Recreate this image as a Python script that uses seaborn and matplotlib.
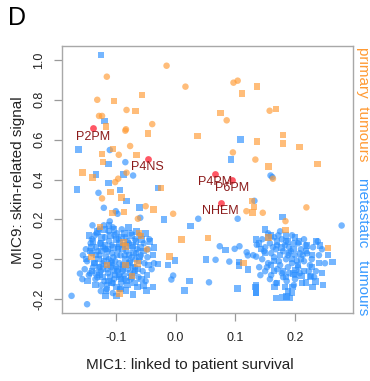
import matplotlib
matplotlib.use("Agg")
import matplotlib.pyplot as plt
import seaborn as sns
import pandas as pd

# ---------------- data ----------------
blue_circle_x = [-0.150, -0.142, -0.135, -0.128, -0.120, -0.112, -0.105, -0.098, -0.090, -0.083, -0.075, -0.068, -0.060, -0.053, -0.046,
                 -0.155, -0.148, -0.140, -0.133, -0.127, -0.122, -0.117, -0.111, -0.106, -0.101, -0.096, -0.092, -0.087, -0.082, -0.078,
                 -0.073, -0.068, -0.064, -0.058, -0.052, -0.047, -0.040,
                 -0.152, -0.145, -0.138, -0.131, -0.125, -0.119, -0.113, -0.108, -0.103, -0.097, -0.091, -0.086, -0.080, -0.075, -0.070,
                 -0.062, -0.055, -0.160, -0.174, -0.148,
                 -0.140, -0.132, -0.126, -0.118, -0.114, -0.107, -0.102, -0.095, -0.088, -0.080, -0.072, -0.066, -0.130, -0.121,
                 -0.112, -0.104, -0.094, -0.085, -0.076, -0.067, -0.136, -0.127, -0.117, -0.108, -0.099, -0.089, -0.079, -0.143,
                 -0.134, -0.124, -0.114, -0.105, -0.095, -0.085, -0.125, -0.115, -0.105, -0.093, -0.156, -0.044, -0.036, -0.050,
                 -0.139, -0.110,
                 -0.129, -0.110, -0.084, -0.071, -0.120, -0.100, -0.097, -0.059, 0.038, 0.104, 0.132, 0.159, 0.162, 0.278,
                 0.056, -0.004, -0.007, 0.067, 0.090, 0.074, 0.099, 0.107, 0.119, 0.121, 0.136, 0.135,
                 0.145, 0.155, 0.165, 0.175, 0.185, 0.195, 0.205, 0.215, 0.150, 0.160, 0.170, 0.180, 0.190, 0.200, 0.210, 0.220,
                 0.230, 0.240, 0.145, 0.155, 0.165, 0.175, 0.185, 0.195, 0.205, 0.215, 0.225, 0.235, 0.150, 0.160, 0.170, 0.180,
                 0.190, 0.200, 0.250, 0.245, 0.130, 0.140,
                 0.148, 0.158, 0.168, 0.178, 0.188, 0.198, 0.208, 0.218, 0.228, 0.238, 0.153, 0.163, 0.173, 0.183, 0.193, 0.203,
                 0.213, 0.223, 0.158, 0.168, 0.178, 0.188, 0.198, 0.208, 0.142, 0.232, 0.172, 0.186]
blue_circle_y = [0.05, 0.08, 0.12, 0.15, 0.17, 0.14, 0.16, 0.13, 0.15, 0.11, 0.13, 0.10, 0.12, 0.08, 0.05,
                 0.02, -0.01, 0.03, 0.06, 0.02, -0.02, 0.05, 0.09, 0.03, -0.01, 0.06, 0.02, -0.03, 0.04, 0.08,
                 0.01, -0.04, 0.05, 0.02, -0.02, 0.01, -0.05,
                 -0.05, -0.08, -0.04, -0.09, -0.06, -0.11, -0.07, -0.04, -0.10, -0.06, -0.12, -0.08, -0.05, -0.10, -0.07,
                 -0.09, -0.06, -0.072, -0.184, -0.226,
                 0.10, 0.13, 0.08, 0.11, 0.04, 0.07, 0.12, 0.10, 0.07, 0.09, 0.06, 0.03, 0.04, 0.06,
                 0.00, 0.01, -0.02, 0.02, -0.01, 0.00, -0.02, -0.04, -0.03, -0.01, -0.04, -0.06, -0.03, -0.07,
                 -0.10, -0.13, -0.05, -0.12, -0.08, -0.10, -0.16, -0.15, -0.17, -0.15, -0.10, 0.10, -0.02, -0.11,
                 0.17, 0.19,
                 0.333, 0.548, 0.487, 0.420, 0.258, 0.241, 0.228, 0.208, 0.203, 0.203, 0.293, 0.420, 0.412, 0.169,
                 -0.116, -0.082, -0.102, -0.003, -0.012, 0.065, 0.052, 0.065, 0.035, 0.019, 0.072, 0.013,
                 0.10, 0.13, 0.11, 0.14, 0.09, 0.12, 0.08, 0.10, 0.06, 0.03, 0.07, 0.04, 0.06, 0.02, 0.05, 0.03,
                 0.06, 0.02, 0.00, -0.02, 0.01, -0.03, 0.00, -0.02, -0.04, -0.01, -0.03, -0.06, -0.06, -0.08, -0.05, -0.09,
                 -0.07, -0.10, -0.02, 0.05, 0.02, -0.04,
                 0.04, 0.08, 0.05, 0.10, 0.02, 0.08, 0.03, 0.07, 0.00, 0.09, -0.04, 0.06, -0.01, 0.07, 0.04, -0.01,
                 0.02, -0.06, -0.10, -0.12, -0.07, -0.04, -0.13, -0.07, -0.08, -0.09, 0.12, -0.11]

blue_square_x = [-0.162, -0.165, -0.133, -0.112, -0.087, -0.112, -0.093, -0.082, -0.060, -0.029, -0.019, 0.025, -0.125, -0.119,
                 0.1085, 0.093,
                 -0.145, -0.138, -0.131, -0.124, -0.118, -0.109, -0.100, -0.094, -0.085, -0.079, -0.071, -0.065, -0.057, -0.050,
                 -0.043, -0.036,
                 -0.150, -0.143, -0.136, -0.129, -0.124, -0.116, -0.109, -0.104, -0.098, -0.089, -0.084, -0.077, -0.070, -0.061,
                 -0.054, -0.045, -0.038,
                 -0.147, -0.140, -0.134, -0.127, -0.121, -0.115, -0.110, -0.104, -0.099, -0.094, -0.088, -0.082, -0.076, -0.069,
                 -0.063, -0.057, -0.048,
                 -0.141, -0.133, -0.125, -0.119, -0.111, -0.103, -0.096, -0.090, -0.081, -0.073, -0.066, -0.059, -0.128, -0.120,
                 -0.113, -0.106, -0.097, -0.087, -0.078, -0.068, -0.060, -0.132, -0.122, -0.112, -0.101, -0.091, -0.080, -0.071,
                 -0.116, -0.107, -0.092, -0.074,
                 -0.117, -0.099, -0.071, -0.083, -0.049, -0.038, -0.064, -0.054, -0.029, -0.0125, -0.001, 0.023, 0.015, 0.051,
                 0.084, 0.1035, 0.106, 0.106, 0.121, 0.135, 0.135,
                 0.179, 0.135, 0.134, 0.166, 0.168, 0.179, 0.186, 0.191, 0.188, 0.195, 0.183, 0.196, 0.218, 0.234, 0.247,
                 0.229, 0.263, 0.228, 0.227, 0.211, 0.197, 0.201,
                 0.150, 0.160, 0.170, 0.185, 0.200, 0.220, 0.235, 0.150, 0.175, 0.190, 0.210, 0.240, 0.160, 0.180, 0.200,
                 0.215, 0.245, 0.255, 0.140,
                 0.143, 0.155, 0.165, 0.177, 0.188, 0.197, 0.207, 0.218, 0.228, 0.165, 0.185, 0.205, 0.225, 0.170, 0.195,
                 0.212, 0.242, 0.135]
blue_square_y = [0.551, 0.350, 0.424, 0.477, 0.424, 0.383, 0.347, 0.293, 0.260, 0.358, 0.199, 0.167, 1.024, 0.693,
                 0.601, 0.500,
                 0.12, 0.09, 0.14, 0.11, 0.07, 0.12, 0.10, 0.08, 0.13, 0.16, 0.07, 0.14, 0.10, 0.13,
                 0.09, 0.06,
                 0.00, 0.04, -0.02, 0.00, 0.04, 0.01, -0.03, 0.06, 0.02, 0.05, 0.00, -0.02, 0.03, -0.01,
                 0.04, -0.03, 0.02,
                 -0.11, -0.06, -0.13, -0.08, -0.05, -0.13, -0.09, -0.06, -0.14, -0.09, -0.05, -0.11, -0.07, -0.12,
                 -0.05, -0.10, -0.08,
                 0.06, 0.02, 0.08, 0.15, 0.17, 0.15, 0.05, 0.11, 0.07, 0.12, 0.09, 0.06, -0.04, -0.01,
                 0.05, -0.02, -0.05, -0.03, 0.02, -0.06, 0.01, -0.07, -0.09, -0.11, -0.08, -0.10, -0.13, -0.04,
                 -0.16, -0.12, -0.15, -0.09,
                 -0.184, -0.184, -0.176, -0.156, -0.156, -0.139, -0.139, -0.132, -0.025, -0.028, -0.007, -0.109, -0.156, -0.002,
                 0.047, -0.146, -0.015, -0.032, -0.052, -0.132, -0.166,
                 0.213, -0.169, -0.139, -0.139, -0.194, -0.193, -0.186, -0.194, -0.162, -0.169, -0.139, -0.139, -0.116, -0.112, -0.129,
                 -0.139, -0.015, -0.039, -0.085, -0.085, -0.072, -0.055,
                 0.15, 0.12, 0.09, 0.12, 0.11, 0.07, 0.09, 0.03, 0.02, 0.03, 0.00, -0.02, -0.03, -0.06, -0.08,
                 -0.06, -0.07, 0.02, 0.08,
                 0.05, 0.11, -0.01, 0.06, 0.09, 0.05, 0.09, 0.04, 0.02, -0.06, -0.09, -0.03, -0.09, -0.12, 0.00,
                 -0.12, 0.07, 0.10]

orange_circle_x = [-0.115, -0.131, -0.082, -0.128, -0.123, -0.039, -0.083, -0.015, 0.0166, 0.097, 0.104, 0.0856, 0.1575,
                   -0.084, 0.1336, 0.096, 0.163, -0.095, -0.076, -0.082, -0.096, -0.101, -0.123, -0.050, -0.004, -0.063,
                   0.1186, 0.146, 0.184, 0.219, -0.048]
orange_circle_y = [0.916, 0.800, 0.749, 0.719, 0.719, 0.678, 0.652, 0.971, 0.866, 0.886, 0.896, 0.697, 0.745,
                   0.645, 0.500, 0.536, 0.404, 0.524, 0.568, 0.434, 0.404, 0.387, 0.305, 0.266, 0.228, 0.203,
                   0.241, 0.233, 0.191, 0.260, 0.049]

orange_square_x = [-0.103, -0.056, -0.067, -0.116, -0.046, 0.111, 0.136, 0.0756, 0.0366, 0.168, 0.180, 0.180, 0.136,
                   0.2077, 0.238, 0.156, -0.024, -0.156, -0.139, -0.123, -0.121, -0.1045, -0.0654, -0.109, -0.0905,
                   -0.037, -0.1055, -0.086, 0.0099, 0.054, 0.128, 0.131, 0.129, 0.255, 0.184, 0.156, -0.126, -0.061,
                   -0.058, -0.087, -0.084, -0.141, -0.115, -0.064, -0.084, -0.094, -0.0097, 0.114, -0.073]
orange_square_y = [0.795, 0.824, 0.745, 0.665, 0.632, 0.831, 0.868, 0.734, 0.618, 0.754, 0.623, 0.580, 0.591,
                   0.564, 0.477, 0.464, 0.358, 0.434, 0.410, 0.528, 0.487, 0.553, 0.524, 0.338, 0.310,
                   0.250, 0.233, 0.236, 0.100, 0.107, 0.293, 0.263, 0.235, 0.055, 0.146, 0.109, 0.162, 0.132,
                   0.116, 0.085, 0.065, 0.010, -0.028, -0.022, -0.028, -0.173, 0.013, -0.020, -0.085]

cell_labels = ["P2PM", "P4NS", "P4PM", "P6PM", "NHEM"]
cell_x = [-0.138, -0.0465, 0.0656, 0.0945, 0.0756]
cell_y = [0.657, 0.504, 0.430, 0.400, 0.283]

x_ticks = [-0.1, 0.0, 0.1, 0.2]
y_ticks = [-0.2, 0.0, 0.2, 0.4, 0.6, 0.8, 1.0]

# ---------------- table ----------------
frames = [
    pd.DataFrame({"x": blue_circle_x, "y": blue_circle_y, "group": "metastatic", "shape": "circle"}),
    pd.DataFrame({"x": blue_square_x, "y": blue_square_y, "group": "metastatic", "shape": "square"}),
    pd.DataFrame({"x": orange_circle_x, "y": orange_circle_y, "group": "primary", "shape": "circle"}),
    pd.DataFrame({"x": orange_square_x, "y": orange_square_y, "group": "primary", "shape": "square"}),
]
df = pd.concat(frames, ignore_index=True)
cells = pd.DataFrame({"x": cell_x, "y": cell_y, "label": cell_labels})

# ---------------- figure ----------------
sns.set_theme(style="white")
plt.rcParams["font.family"] = ["Liberation Sans", "DejaVu Sans"]

W, H = 370, 381
fig = plt.figure(figsize=(W / 100, H / 100), dpi=100)
ax = fig.add_axes([62 / W, 1 - 313 / H, 291 / W, 267 / H])

BLUE = "#2B8FFF"
ORANGE = "#FF9A33"
sns.scatterplot(data=df, x="x", y="y", hue="group", style="shape",
                palette={"metastatic": BLUE, "primary": ORANGE},
                markers={"circle": "o", "square": "s"},
                s=22, linewidth=0, alpha=0.65, legend=False, ax=ax)
sns.scatterplot(data=cells, x="x", y="y", color="#FF3A4A", s=24, linewidth=0,
                alpha=0.85, legend=False, ax=ax)
for lab, xv, yv in zip(cell_labels, cell_x, cell_y):
    ax.annotate(lab, (xv, yv), xytext=(0, -6), textcoords="offset points",
                ha="center", va="center", fontsize=9, color="#8B1A1A")

ax.set_xlim(-0.190, 0.297)
ax.set_ylim(-0.27, 1.07)
ax.set_xticks(x_ticks)
ax.set_xticklabels([f"{v:.1f}" for v in x_ticks])
ax.set_yticks(y_ticks)
ax.set_yticklabels([f"{v:.1f}" for v in y_ticks], rotation=90, va="center")
ax.tick_params(axis="both", which="both", direction="out", length=6, width=0.9,
               color="#9a9a9a", labelsize=9, labelcolor="#222222",
               bottom=True, left=True)
ax.tick_params(axis="x", pad=8)
ax.tick_params(axis="y", pad=6)
for sp in ax.spines.values():
    sp.set_color("#a8a8a8")
    sp.set_linewidth(1.0)

ax.set_xlabel("")
ax.set_ylabel("")
fig.text(190 / W, 1 - 365 / H, "MIC1: linked to patient survival", ha="center", va="center",
         fontsize=11, color="#222222")
fig.text(18 / W, 1 - 180 / H, "MIC9: skin-related signal", ha="center", va="center",
         rotation=90, fontsize=11, color="#222222")
fig.text(17 / W, 1 - 18 / H, "D", ha="center", va="center", fontsize=18, color="black")
fig.text(363 / W, 1 - 47 / H, "primary  tumours", ha="center", va="top",
         rotation=-90, fontsize=11, color=ORANGE)
fig.text(363 / W, 1 - 178 / H, "metastatic   tumours", ha="center", va="top",
         rotation=-90, fontsize=11, color="#3A9BFF")

fig.savefig("out.png", dpi=100)
